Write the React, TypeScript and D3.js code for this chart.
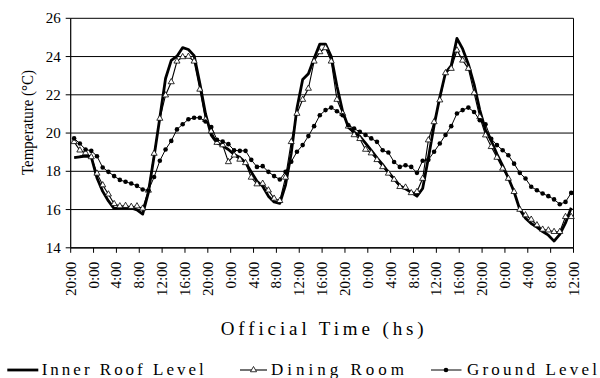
import React from 'react';
import * as d3 from 'd3';

const timeLabels = [
  '20:00', '0:00', '4:00', '8:00', '12:00', '16:00',
  '20:00', '0:00', '4:00', '8:00', '12:00', '16:00',
  '20:00', '0:00', '4:00', '8:00', '12:00', '16:00',
  '20:00', '0:00', '4:00', '8:00', '12:00',
];
const yTicks = [14, 16, 18, 20, 22, 24, 26];

const innerRoof = [
  18.72, 18.76, 18.79, 18.76, 17.65, 16.95, 16.45, 16.05, 16.1, 16.1, 16.08, 15.98,
  15.76, 16.9, 18.8, 20.8, 22.85, 23.8, 24.02, 24.47, 24.37, 24.05, 22.6, 21.0,
  19.89, 19.49, 19.33, 19.14, 18.88, 18.72, 18.46, 17.97, 17.48, 17.22, 16.7, 16.4,
  16.32, 17.28, 18.95, 21.3, 22.8, 23.1, 23.9, 24.65, 24.65, 24.0, 22.45, 21.13,
  20.3, 20.05, 19.83, 19.47, 19.1, 18.7, 18.35, 17.95, 17.6, 17.25, 17.08, 16.9,
  16.7, 17.1, 18.7, 20.4, 21.87, 23.15, 23.53, 24.95, 24.4, 23.6, 22.55, 21.2,
  20.15, 19.6, 18.9, 18.3, 17.65, 16.93, 16.0, 15.55, 15.27, 15.08, 14.85, 14.66,
  14.35, 14.7, 15.3, 16.1,
];

const diningRoom = [
  19.54, 19.1, 18.96, 18.75, 17.89, 17.28, 16.8, 16.3, 16.18, 16.2, 16.15, 16.18,
  16.06, 17.0, 18.93, 20.76, 21.98, 22.67, 23.75, 23.98, 24.0, 23.75, 22.28, 20.7,
  20.1, 19.5, 19.37, 18.49, 18.84, 18.62, 18.44, 17.68, 17.33, 17.36, 17.01, 16.58,
  16.46, 17.68, 19.54, 21.02, 21.75, 22.33, 23.75, 24.24, 24.45, 23.75, 21.75, 21.02,
  20.35, 19.9, 19.7, 19.14, 18.95, 18.6, 18.23, 17.89, 17.57, 17.19, 17.16, 16.87,
  16.93, 17.62, 19.63, 20.58, 21.72, 23.14, 23.37, 24.33, 23.8, 23.37, 22.1, 20.84,
  19.89, 19.28, 18.72, 18.15, 17.62, 16.93, 16.0, 15.71, 15.48, 15.19, 14.96, 14.92,
  14.84, 14.84, 15.62, 15.62,
];

const groundLevel = [
  19.72, 19.45, 19.14, 19.07, 18.79, 18.2, 17.97, 17.75, 17.55, 17.45, 17.36, 17.24,
  17.05, 17.0, 17.7, 18.55, 19.14, 19.59, 20.19, 20.46, 20.72, 20.8, 20.8, 20.6,
  20.32, 19.65, 19.55, 19.42, 19.1, 19.07, 19.07, 18.6, 18.23, 18.27, 17.97, 17.75,
  17.57, 17.97, 18.5, 19.02, 19.37, 19.84, 20.36, 20.93, 21.2, 21.33, 21.14, 20.93,
  20.41, 20.24, 20.06, 19.9, 19.72, 19.54, 19.1, 18.98, 18.49, 18.23, 18.32, 18.23,
  17.92, 18.55, 18.6, 19.02, 19.45, 19.9, 20.36, 21.02, 21.2, 21.33, 21.1, 20.67,
  20.46, 19.7, 19.37, 19.1, 18.84, 18.4, 17.92, 17.62, 17.19, 17.01, 16.84, 16.7,
  16.53, 16.28, 16.4, 16.87,
];

const FONT = "'Liberation Serif', 'DejaVu Serif', serif";
const W = 600;
const H = 378;
const HOURS = 88;

const x = d3.scaleLinear().domain([0, HOURS]).range([70.7, 573.5]);
const y = d3.scaleLinear().domain([14, 26]).range([247.8, 18.3]);
const xPoint = (i: number) => x(i + 0.6);

const lineGen = d3
  .line<number>()
  .x((_, i) => xPoint(i))
  .y((d) => y(d));

const triPath = d3.symbol().type(d3.symbolTriangle).size(16)() as string;

const txt = (size: number): React.CSSProperties => ({ fontFamily: FONT, fontSize: size });

export default function App() {
  const left = x(0);
  const right = x(HOURS);
  const top = y(26);
  const bottom = y(14);
  const xTickVals = timeLabels.map((_, i) => i * 4);

  return (
    <div style={{ position: 'fixed', left: 0, top: 0 }}>
      <svg width={W} height={H} style={{ display: 'block', background: '#fff' }}>
        <rect x={0} y={0} width={W} height={H} fill="#fff" />
        {yTicks.map((t) => (
          <line key={'g' + t} x1={left} x2={right} y1={y(t)} y2={y(t)} stroke="#000" strokeWidth={1} />
        ))}
        <line x1={right} x2={right} y1={top} y2={bottom} stroke="#000" strokeWidth={1} />
        <line x1={left} x2={left} y1={top} y2={bottom} stroke="#000" strokeWidth={1.2} />
        <line x1={left} x2={right} y1={bottom} y2={bottom} stroke="#000" strokeWidth={1.2} />
        {yTicks.map((t) => (
          <g key={'yt' + t}>
            <line x1={left - 5} x2={left} y1={y(t)} y2={y(t)} stroke="#000" />
            <text x={left - 10} y={y(t)} textAnchor="end" dominantBaseline="central" style={txt(15)}>
              {t}
            </text>
          </g>
        ))}
        {xTickVals.map((v, i) => (
          <g key={'xt' + i}>
            <line x1={x(v)} x2={x(v)} y1={bottom} y2={bottom + 5} stroke="#000" />
            <text
              transform={`translate(${x(v)},${bottom + 14}) rotate(-90)`}
              textAnchor="end"
              dominantBaseline="central"
              style={txt(15)}
            >
              {timeLabels[i]}
            </text>
          </g>
        ))}
        <path d={lineGen(innerRoof) as string} fill="none" stroke="#000" strokeWidth={2.8} strokeLinejoin="round" />
        <path d={lineGen(diningRoom) as string} fill="none" stroke="#000" strokeWidth={1.1} />
        {diningRoom.map((d, i) => (
          <path key={'d' + i} d={triPath} transform={`translate(${xPoint(i)},${y(d)})`} fill="#fff" stroke="#000" strokeWidth={0.8} />
        ))}
        <path d={lineGen(groundLevel) as string} fill="none" stroke="#000" strokeWidth={1} />
        {groundLevel.map((d, i) => (
          <circle key={'c' + i} cx={xPoint(i)} cy={y(d)} r={2.3} fill="#000" />
        ))}
        <text
          transform={`translate(32.5,122.5) rotate(-90)`}
          textAnchor="middle"
          style={txt(16)}
          textLength={105}
          lengthAdjust="spacingAndGlyphs"
        >
          Temperature (°C)
        </text>
        <text x={220.7} y={335} style={txt(19)} textLength={203} lengthAdjust="spacing">
          Official Time (hs)
        </text>
        <line x1={7.3} x2={38.3} y1={370} y2={370} stroke="#000" strokeWidth={2.8} />
        <text x={41.7} y={375} style={txt(17)} textLength={162} lengthAdjust="spacing">
          Inner Roof Level
        </text>
        <line x1={240} x2={267} y1={370} y2={370} stroke="#000" strokeWidth={1.1} />
        <path d={triPath} transform="translate(253.5,370)" fill="#fff" stroke="#000" strokeWidth={0.8} />
        <text x={271} y={375} style={txt(17)} textLength={133} lengthAdjust="spacing">
          Dining Room
        </text>
        <line x1={431} x2={461.5} y1={370} y2={370} stroke="#000" strokeWidth={1} />
        <circle cx={446} cy={370} r={2.3} fill="#000" />
        <text x={467} y={375} style={txt(17)} textLength={130} lengthAdjust="spacing">
          Ground Level
        </text>
      </svg>
    </div>
  );
}
